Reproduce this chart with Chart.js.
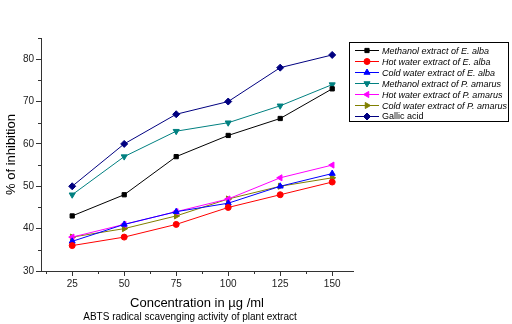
<!DOCTYPE html>
<html><head><meta charset="utf-8">
<script src="https://cdn.jsdelivr.net/npm/chart.js@4/dist/chart.umd.min.js"></script>
<style>html,body{margin:0;padding:0;background:#fff}#wrap{width:512px;height:324px}</style>
</head><body><div id="wrap"><canvas id="c" width="512" height="324"></canvas></div>
<script>
const concentrations = [25, 50, 75, 100, 125, 150];
const seriesNames = [
  "Methanol extract of E. alba",
  "Hot water extract of E. alba",
  "Cold water extract of E. alba",
  "Methanol extract of P. amarus",
  "Hot water extract of P. amarus",
  "Cold water extract of P. amarus",
  "Gallic acid"
];
const methanolEAlba = [43, 48, 57, 62, 66, 73];
const hotWaterEAlba = [36, 38, 41, 45, 48, 51];
const coldWaterEAlba = [37, 41, 44, 46, 50, 53];
const methanolPAmarus = [48, 57, 63, 65, 69, 74];
const hotWaterPAmarus = [38, 41, 44, 47, 52, 55];
const coldWaterPAmarus = [38, 40, 43, 47, 50, 52];
const gallicAcid = [50, 60, 67, 70, 78, 81];
const yTicks = [30, 40, 50, 60, 70, 80];
const yMinorTicks = [35, 45, 55, 65, 75, 85];
const xTicks = [25, 50, 75, 100, 125, 150];
const xMinorTicks = [12.5, 37.5, 62.5, 87.5, 112.5, 137.5];
const captionText = 'ABTS radical scavenging activity of plant extract';

const allValues = [methanolEAlba, hotWaterEAlba, coldWaterEAlba, methanolPAmarus, hotWaterPAmarus, coldWaterPAmarus, gallicAcid];
const colors = ['#000000', '#ff0000', '#0000ff', '#008080', '#ff00ff', '#808000', '#000080'];
const styles = [
  {s: 'rect', r: 0, rad: 3},
  {s: 'circle', r: 0, rad: 3},
  {s: 'triangle', r: 0, rad: 3.5},
  {s: 'triangle', r: 180, rad: 3.5},
  {s: 'triangle', r: -90, rad: 3.5},
  {s: 'triangle', r: 90, rad: 3.5},
  {s: 'rectRot', r: 0, rad: 3.5}
];

const datasets = allValues.map((vals, i) => ({
  label: seriesNames[i],
  data: concentrations.map((c, j) => ({x: c, y: vals[j]})),
  borderColor: colors[i],
  backgroundColor: colors[i],
  borderWidth: 1,
  pointStyle: styles[i].s,
  rotation: styles[i].r,
  pointRadius: styles[i].rad,
  pointBorderWidth: 1,
  tension: 0
}));

function drawMarker(ctx, style, rot, rad, x, y, color) {
  ctx.fillStyle = color; ctx.strokeStyle = color; ctx.lineWidth = 1;
  if (Chart.helpers && Chart.helpers.drawPoint) {
    Chart.helpers.drawPoint(ctx, {pointStyle: style, rotation: rot, radius: rad, borderWidth: 1}, x, y);
    return;
  }
  ctx.beginPath(); ctx.arc(x, y, rad, 0, Math.PI * 2); ctx.fill();
}

const extras = {
  id: 'extras',
  afterDraw(chart) {
    const ctx = chart.ctx;
    const xs = chart.scales.x, ys = chart.scales.y;
    ctx.save();
    ctx.strokeStyle = '#333'; ctx.lineWidth = 1;
    yMinorTicks.forEach(v => {
      const p = Math.round(ys.getPixelForValue(v)) + 0.5;
      ctx.beginPath(); ctx.moveTo(xs.left - 3, p); ctx.lineTo(xs.left, p); ctx.stroke();
    });
    xMinorTicks.forEach(v => {
      const p = Math.round(xs.getPixelForValue(v)) + 0.5;
      ctx.beginPath(); ctx.moveTo(p, ys.bottom); ctx.lineTo(p, ys.bottom + 3); ctx.stroke();
    });
    // caption
    ctx.fillStyle = '#000';
    ctx.font = '10px "Liberation Sans", Arial, sans-serif';
    ctx.textAlign = 'center'; ctx.textBaseline = 'middle';
    ctx.fillText(captionText, 190, 317);
    // legend
    const bx = 349.5, by = 42.5, bw = 159, bh = 79;
    ctx.fillStyle = '#fff'; ctx.fillRect(bx, by, bw, bh);
    ctx.strokeStyle = '#000'; ctx.lineWidth = 1; ctx.strokeRect(bx, by, bw, bh);
    const rowY0 = 50.5, dy = 11;
    seriesNames.forEach((name, i) => {
      const y = rowY0 + i * dy;
      ctx.strokeStyle = colors[i]; ctx.lineWidth = 1;
      ctx.beginPath(); ctx.moveTo(355, y); ctx.lineTo(379, y); ctx.stroke();
      drawMarker(ctx, styles[i].s, styles[i].r, styles[i].rad, 367, y, colors[i]);
      ctx.fillStyle = '#000';
      ctx.font = (i < 6 ? 'italic ' : '') + '9px "Liberation Sans", Arial, sans-serif';
      ctx.textBaseline = 'middle'; ctx.textAlign = 'left';
      ctx.fillText(name, 382, y + 0.5);
    });
    ctx.restore();
  }
};

new Chart(document.getElementById('c'), {
  type: 'line',
  data: {datasets},
  options: {
    responsive: false,
    animation: false,
    layout: {padding: {left: 0, right: 159, top: 38, bottom: 13}},
    plugins: {
      legend: {display: false},
      tooltip: {enabled: false},
      title: {display: false}
    },
    scales: {
      x: {
        type: 'linear', min: 10, max: 160,
        afterBuildTicks: s => { s.ticks = xTicks.map(v => ({value: v})); },
        afterFit: s => { s.height = 40; },
        grid: {drawOnChartArea: false, tickLength: 5, color: '#333'},
        border: {color: '#333', width: 1},
        ticks: {color: '#222', padding: 2, font: {family: '"Liberation Sans", Arial, sans-serif', size: 10}, maxRotation: 0},
        title: {display: true, text: 'Concentration in µg /ml', color: '#000',
          font: {family: '"Liberation Sans", Arial, sans-serif', size: 13, lineHeight: 1.2}, padding: {top: 0, bottom: 0}}
      },
      y: {
        type: 'linear', min: 30, max: 85,
        afterBuildTicks: s => { s.ticks = yTicks.map(v => ({value: v})); },
        afterFit: s => { s.width = 41; },
        grid: {drawOnChartArea: false, tickLength: 5, color: '#333'},
        border: {color: '#333', width: 1},
        ticks: {color: '#222', padding: 2, font: {family: '"Liberation Sans", Arial, sans-serif', size: 10}},
        title: {display: true, text: '% of inhibition', color: '#000',
          font: {family: '"Liberation Sans", Arial, sans-serif', size: 13, lineHeight: 1.2}, padding: {top: 4, bottom: 0}}
      }
    }
  },
  plugins: [extras]
});
</script>
</body></html>
